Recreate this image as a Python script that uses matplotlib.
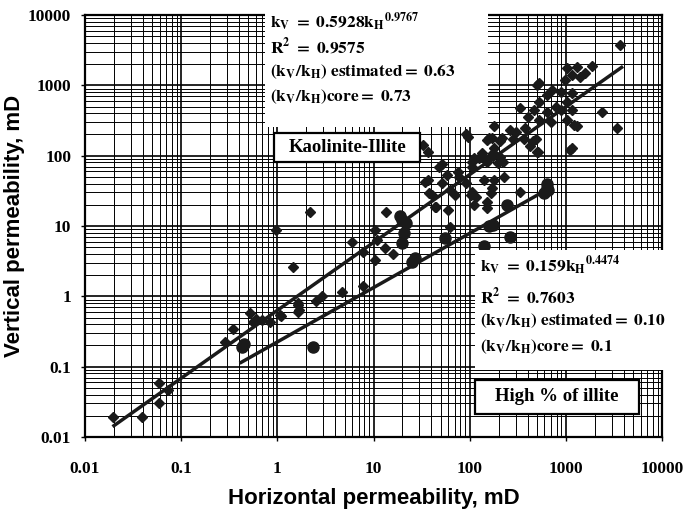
import matplotlib
matplotlib.use("Agg")
import matplotlib.pyplot as plt
from matplotlib.patches import Rectangle

# === Data ===
# Kaolinite-Illite samples (diamonds)
kh_kaol = [0.0195, 0.039, 0.059, 0.059, 0.073, 0.285, 0.344, 0.52, 0.56, 0.6,
           0.69, 0.84, 1.06, 1.1, 1.63, 1.63, 1.7, 1.63, 2.5, 2.9,
           4.7, 7.8, 0.97, 1.45, 2.2, 6.0, 7.8, 10.3, 10.3, 13.2,
           16, 13.5, 10.8, 33, 36.6, 41, 45, 52, 58, 59,
           62, 75, 91, 105, 105, 115, 130, 140, 150, 160,
           150, 175, 150, 34, 44, 70, 104, 112, 168, 230,
           330, 500, 460, 36.7, 51, 205, 220, 91, 110, 170,
           180, 170, 195, 48, 38, 62, 180, 78, 3640, 1020,
           1300, 1850, 1150, 1390, 980, 1600, 530, 720, 890, 1160,
           630, 530, 790, 1030, 330, 470, 630, 890, 1150, 2400,
           3400, 400, 530, 700, 1020, 1230, 1300, 180, 260, 300,
           380, 160, 215, 280, 370, 490, 95, 420, 510, 1150,
           1100, 135, 175, 125, 205, 150, 105, 500]
kv_kaol = [0.0195, 0.0195, 0.030, 0.059, 0.047, 0.226, 0.347, 0.58, 0.43, 0.47,
           0.46, 0.43, 0.55, 0.52, 0.6, 0.81, 0.64, 0.75, 0.87, 1.0,
           1.15, 1.4, 8.8, 2.6, 15.9, 6.0, 4.3, 8.8, 3.3, 4.9,
           4.0, 15.9, 6.4, 142, 45, 27.7, 18.7, 41, 53, 17,
           9.6, 59, 41, 82, 30, 26, 96, 45, 22, 93,
           168, 110, 18, 42, 18.5, 27.7, 27.7, 20, 29, 50,
           30, 113, 160, 113, 75, 160, 80, 200, 93, 180,
           130, 35, 78, 70, 29, 32, 45, 50, 3750, 1766,
           1800, 1900, 1400, 1320, 1190, 1500, 1080, 860, 800, 780,
           730, 580, 490, 580, 470, 450, 420, 450, 450, 420,
           250, 355, 320, 300, 320, 275, 260, 260, 230, 215,
           250, 180, 180, 170, 170, 170, 185, 135, 113, 130,
           120, 110, 100, 93, 96, 82, 70, 1000]

# High % of illite samples (large dots)
kh_illite = [0.43, 0.45, 2.35, 18.8, 20, 22, 21, 20, 25, 27,
             55, 140, 160, 175, 245, 260, 600, 630, 650, 640]
kv_illite = [0.19, 0.21, 0.19, 14, 12, 11, 7.9, 5.8, 3.1, 3.5,
             6.8, 5.2, 10, 10.5, 20, 7, 29, 39, 32, 35]

# Fitted trend lines as drawn (end points)
fit_kaol_x = [0.02, 3800]
fit_kaol_y = [0.0145, 1800]
fit_illite_x = [0.42, 640]
fit_illite_y = [0.115, 33]

xticks = [0.01, 0.1, 1, 10, 100, 1000, 10000]
yticks = [0.01, 0.1, 1, 10, 100, 1000, 10000]
tick_labels = ["0.01", "0.1", "1", "10", "100", "1000", "10000"]

# === Figure ===
W, H = 687, 513
plt.rcParams['mathtext.fontset'] = 'stix'
fig = plt.figure(figsize=(W / 100, H / 100), dpi=100)
ax = fig.add_axes([85 / W, 1 - 437 / H, 577 / W, 422 / H])

ax.set_xscale("log")
ax.set_yscale("log")
ax.set_xlim(0.01, 10000)
ax.set_ylim(0.01, 10000)

ax.grid(True, which="major", color="black", lw=1.2)
ax.grid(True, which="minor", color="black", lw=0.7)
ax.set_axisbelow(True)
for s in ax.spines.values():
    s.set_linewidth(1.6)

ax.plot(kh_kaol, kv_kaol, "D", color="#1a1a1a", ms=5, zorder=4)
ax.plot(kh_illite, kv_illite, "o", color="#1a1a1a", ms=8, zorder=4)
ax.plot(fit_kaol_x, fit_kaol_y, "-", color="#1a1a1a", lw=2.5, zorder=5)
ax.plot(fit_illite_x, fit_illite_y, "-", color="#1a1a1a", lw=2.5, zorder=5)

ax.set_xticks(xticks)
ax.set_yticks(yticks)
ax.set_xticklabels(tick_labels, fontfamily="Liberation Serif", fontweight="bold", fontsize=12.5)
ax.set_yticklabels(tick_labels, fontfamily="Liberation Serif", fontweight="bold", fontsize=12.5)
ax.tick_params(which="major", length=3, width=1, pad=14, axis="x")
ax.tick_params(which="major", length=3, width=1, pad=7, axis="y")
ax.tick_params(which="minor", length=0)

ax.set_xlabel("Horizontal permeability, mD", fontfamily="Liberation Sans",
              fontweight="bold", fontsize=16, labelpad=8)
ax.set_ylabel("Vertical permeability, mD", fontfamily="Liberation Sans",
              fontweight="bold", fontsize=16)
ax.yaxis.set_label_coords(-0.104, 0.5)

# white areas behind the equations (cover grid and spine)
ax.add_patch(Rectangle((0.312, 0.735), 0.386, 0.28, transform=ax.transAxes,
                       facecolor="white", edgecolor="none", zorder=6, clip_on=False))
ax.add_patch(Rectangle((0.676, 0.159), 0.34, 0.284, transform=ax.transAxes,
                       facecolor="white", edgecolor="none", zorder=6, clip_on=False))

# labelled boxes
ax.add_patch(Rectangle((0.328, 0.652), 0.253, 0.068, transform=ax.transAxes,
                       facecolor="white", edgecolor="black", lw=1.6, zorder=6))
ax.text(0.4545, 0.686, "Kaolinite-Illite", transform=ax.transAxes, ha="center", va="center",
        fontfamily="Liberation Serif", fontweight="bold", fontsize=13.5, zorder=7)
ax.add_patch(Rectangle((0.676, 0.0545), 0.284, 0.0805, transform=ax.transAxes,
                       facecolor="white", edgecolor="black", lw=1.6, zorder=6))
ax.text(0.818, 0.095, "High % of illite", transform=ax.transAxes, ha="center", va="center",
        fontfamily="Liberation Serif", fontweight="bold", fontsize=13.5, zorder=7)

# equations
eq_kaol = [r"$\mathbf{k_V\ =\ 0.5928k_H}^{\mathbf{0.9767}}$",
           r"$\mathbf{R^2\ =\ 0.9575}$",
           r"$\mathbf{(k_V/k_H)\ estimated{=}\ 0.63}$",
           r"$\mathbf{(k_V/k_H)core{=}\ 0.73}$"]
eq_illite = [r"$\mathbf{k_V\ =\ 0.159k_H}^{\mathbf{0.4474}}$",
             r"$\mathbf{R^2\ =\ 0.7603}$",
             r"$\mathbf{(k_V/k_H)\ estimated{=}\ 0.10}$",
             r"$\mathbf{(k_V/k_H)core{=}\ 0.1}$"]
for s, py in zip(eq_kaol, [22, 47, 72, 97]):
    fig.text(270 / W, 1 - py / H, s, fontsize=12.5, ha="left", va="center", zorder=8)
for s, py in zip(eq_illite, [266, 297, 321, 347]):
    fig.text(480 / W, 1 - py / H, s, fontsize=12.5, ha="left", va="center", zorder=8)

plt.savefig("out.png", dpi=100)
